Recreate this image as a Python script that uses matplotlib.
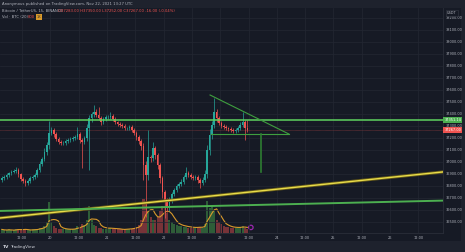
import numpy as np
import pandas as pd
import matplotlib
matplotlib.use("Agg")
import matplotlib.pyplot as plt
import matplotlib.transforms as mtransforms
from matplotlib.patches import Rectangle

# hourly candles, hour counted from Nov 19 00:00
hours = np.arange(3, 108)
closes = [
    36867, 36875, 36892, 36908, 36917, 36925, 36933, 36900, 36858, 36842, 36825, 36842, 36867, 36875, 36892,
    36933, 36983, 37025, 37083, 37142,
    37242, 37267, 37233, 37192, 37167, 37158, 37158, 37175, 37183, 37192, 37200, 37208,
    37233, 37183, 37167, 37200,
    37283, 37367, 37400, 37417,
    37392, 37367, 37333, 37358, 37375, 37375, 37383, 37358, 37333, 37317, 37308, 37300, 37283, 37283, 37292,
    37267, 37242, 37208, 37175, 37133,
    36975, 36892, 37042, 37033, 37117, 37058, 36975, 36867, 36750, 36683, 36625, 36683,
    36733, 36767, 36800, 36817, 36833, 36875, 36908, 36892, 36875, 36867, 36875, 36850, 36825, 36850,
    36900, 37100, 37225, 37308, 37417, 37367, 37325,
    37300, 37292, 37283, 37275, 37267, 37258, 37267, 37283, 37308, 37333, 37283, 37267,
]
first_open = 36850
wick_up = [
    15, 20, 18, 12, 20, 15, 25, 15, 12, 18, 15, 20, 15, 18, 20,
    20, 25, 20, 30, 25,
    100, 25, 15, 20, 15, 12, 18, 15, 20, 15, 18, 20,
    58, 20, 15, 20,
    30, 25, 20, 58,
    25, 67, 15, 20, 18, 20, 33, 15, 20, 12, 15, 18, 15, 12, 20,
    15, 12, 20, 15, 20,
    25, 30, 225, 20, 50, 20, 15, 20, 15, 20, 15, 25,
    20, 15, 20, 15, 25, 20, 50, 15, 20, 15, 18, 15, 20, 25,
    30, 40, 50, 30, 117, 25, 20,
    15, 18, 15, 12, 20, 15, 18, 20, 25, 83, 20, 67,
]
wick_dn = [
    20, 15, 18, 20, 15, 12, 20, 25, 18, 20, 25, 15, 18, 15, 20,
    15, 18, 20, 20, 25,
    30, 20, 25, 18, 20, 15, 18, 20, 15, 18, 15, 20,
    20, 25, 217, 20,
    25, 350, 30, 25,
    20, 18, 25, 15, 20, 18, 15, 20, 18, 15, 20, 15, 18, 20, 15,
    20, 18, 25, 25, 30,
    125, 350, 40, 30, 25, 30, 35, 40, 50, 150, 40, 30,
    25, 20, 18, 20, 15, 20, 18, 20, 15, 20, 18, 25, 42, 20,
    20, 30, 40, 30, 25, 30, 20,
    15, 18, 20, 15, 18, 20, 15, 18, 20, 15, 100, 15,
]
volume = [
    800, 600, 600, 800, 600, 600, 800, 1000, 800, 600, 800, 600, 600, 800, 800,
    1000, 1200, 1200, 1600, 2400,
    7000, 2400, 1600, 1200, 1000, 1000, 800, 800, 800, 800, 1000, 1000,
    1600, 1400, 2000, 1800,
    2800, 6000, 3000, 1800,
    1600, 1200, 1200, 1000, 1000, 1000, 1200, 1000, 800, 800, 800, 800, 800, 1000, 1000,
    1000, 1200, 1400, 1800, 2800,
    7600, 6800, 5000, 3600, 3000, 2800, 3600, 4800, 6000, 5600, 4400, 3000,
    2400, 2000, 1800, 1600, 1600, 1400, 1400, 1200, 1200, 1200, 1200, 1400, 1400, 1200,
    2000, 7200, 5600, 6000, 5000, 3000, 2400,
    2000, 1600, 1400, 1400, 1200, 1200, 1200, 1200, 1400, 1600, 1200, 800,
]

resistance = 37351.14
# drawn lines: (hour, price) end points
trend_down = ([91.7, 125.1], [37558, 37233])
support = ([92.0, 125.1], [37233, 37233])
target = ([113.3, 113.3], [37233, 36917])
yellow_line = ([2.7, 190.4], [36533, 36917])
green_line = ([2.7, 190.4], [36592, 36678])

time_ticks = [12, 24, 36, 48, 60, 72, 84, 96, 108, 120, 132, 144, 156, 168, 180]
time_labels = ["12:00", "20", "12:00", "21", "12:00", "22", "12:00", "23",
               "12:00", "24", "12:00", "25", "12:00", "26", "12:00"]
price_ticks = np.arange(36500, 38201, 100)

BG = "#161a25"
FRAME = "#1e222d"
GRID = "#232733"
TXT = "#b2b5be"
UP = "#26a69a"
DN = "#ef5350"
FS = 2.5

df = pd.DataFrame({"h": hours, "close": closes, "wu": wick_up, "wd": wick_dn, "vol": volume})
df["open"] = df["close"].shift(1).fillna(first_open)
df["high"] = df[["open", "close"]].max(axis=1) + df["wu"]
df["low"] = df[["open", "close"]].min(axis=1) - df["wd"]
df["up"] = df["close"] >= df["open"]
df["vma"] = df["vol"].rolling(5, min_periods=1).mean()

W, H = 465, 252
fig = plt.figure(figsize=(W / 100, H / 100), dpi=100)
fig.patch.set_facecolor(FRAME)
fig.patches.append(Rectangle((0, 11 / H), 461 / W, 233 / H, transform=fig.transFigure,
                             facecolor=BG, edgecolor="none", zorder=-5))

rect = [0, 19 / H, 443 / W, 225 / H]
axv = fig.add_axes(rect)
ax = fig.add_axes(rect)
ax.patch.set_visible(False)
axv.set_facecolor(BG)

# volume
cols = np.where(df["up"], "#4caf50", DN)
axv.bar(df["h"] + 0.5, df["vol"], width=0.85, color=cols, alpha=0.45, linewidth=0)
axv.plot(df["h"] + 0.5, df["vma"], color="#d99a2b", lw=0.8)
axv.scatter([df["h"].iloc[-1] + 2], [df["vma"].iloc[-1]], s=10, facecolor="none",
            edgecolor="#9c27b0", linewidth=0.9)
axv.set_ylim(0, 50000)
axv.set_xlim(2.7, 190.4)
axv.axis("off")

# grid
ax.set_xlim(2.7, 190.4)
ax.set_ylim(36408, 38283)
for t in time_ticks:
    ax.axvline(t, color=GRID, lw=0.5, zorder=0)
for p in price_ticks:
    ax.axhline(p, color=GRID, lw=0.5, zorder=0)

# candles
ccol = np.where(df["up"], UP, DN)
ax.vlines(df["h"] + 0.5, df["low"], df["high"], colors=ccol, lw=0.5, zorder=3)
ax.bar(df["h"] + 0.5, df["close"] - df["open"], bottom=df["open"], width=0.7,
       color=ccol, linewidth=0, zorder=3)

# drawings
ax.axhline(resistance, color="#5fd35f", lw=1.1, zorder=4)
last = df["close"].iloc[-1]
ax.axhline(last, color=DN, lw=0.4, ls=(0, (1, 1)), alpha=0.7, zorder=2)
ax.plot(*trend_down, color="#3f9f3f", lw=0.8, zorder=4)
ax.plot(*support, color="#3f9f3f", lw=0.8, zorder=4)
ax.plot(*target, color="#2e7d32", lw=1.2, zorder=4)
ax.plot(*yellow_line, color="#6b5f1a", lw=2.2, zorder=4)
ax.plot(*yellow_line, color="#e8dc4a", lw=1.0, zorder=4)
ax.plot(*green_line, color="#4caf50", lw=1.4, zorder=4)

# axes cosmetics
for s in ax.spines.values():
    s.set_visible(False)
for side in ("right", "bottom"):
    ax.spines[side].set_visible(True)
    ax.spines[side].set_color("#2a2e39")
    ax.spines[side].set_linewidth(0.6)
ax.yaxis.tick_right()
ax.set_yticks(price_ticks)
ax.set_yticklabels([f"{p:.2f}" for p in price_ticks])
ax.set_xticks(time_ticks)
ax.set_xticklabels(time_labels)
ax.tick_params(axis="both", length=0, labelsize=FS, labelcolor=TXT)
ax.tick_params(axis="y", pad=1.6)
ax.tick_params(axis="x", pad=2.2)

# price labels on scale
tr = mtransforms.blended_transform_factory(ax.transAxes, ax.transData)
for val, fc in ((resistance, "#4caf50"), (last, DN)):
    ax.text(1.003, val, f"{val:.2f}", transform=tr, fontsize=FS, color="white",
            va="center", ha="left", clip_on=False, zorder=6,
            bbox=dict(boxstyle="square,pad=0.35", fc=fc, ec="none"))
fig.text(452 / W, 1 - 13 / H, "USDT", fontsize=FS, color=TXT, ha="center", va="center",
         bbox=dict(boxstyle="square,pad=0.3", fc=BG, ec="#363a45", lw=0.4))

# header
o, hi, lo = df["open"].iloc[-1], df["high"].iloc[-1], df["low"].iloc[-1]
fig.text(2 / W, 1 - 3.5 / H, "Anonymous published on TradingView.com, Nov 22, 2021 13:27 UTC",
         fontsize=2.7, color=TXT, va="center")
fig.text(2 / W, 1 - 11 / H, "Bitcoin / TetherUS, 15, BINANCE", fontsize=2.7, color=TXT, va="center")
fig.text(58 / W, 1 - 11 / H,
         f"O{o:.2f} H{hi:.2f} L{lo:.2f} C{last:.2f} {last - o:+.2f} ({(last - o) / o * 100:+.2f}%)",
         fontsize=2.7, color=DN, va="center")
fig.text(2 / W, 1 - 17 / H, "Vol · BTC (20)", fontsize=2.7, color=TXT, va="center")
fig.text(28 / W, 1 - 17 / H, f"{df['vol'].iloc[-1]:.0f}", fontsize=2.7, color=DN, va="center")
fig.text(37 / W, 1 - 17 / H, "1K", fontsize=2.5, color="#1e222d", va="center",
         bbox=dict(boxstyle="square,pad=0.2", fc="#d99a2b", ec="none"))

# footer
fig.text(3 / W, 1 - 247 / H, "TV", fontsize=3.2, color="#d1d4dc", va="center", weight="bold")
fig.text(10 / W, 1 - 247 / H, "TradingView", fontsize=3, color="#d1d4dc", va="center")

fig.savefig("out.png", dpi=100, facecolor=fig.get_facecolor())
